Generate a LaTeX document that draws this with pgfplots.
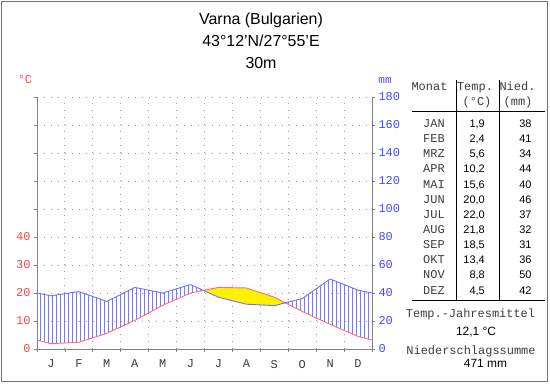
\documentclass[border=0pt]{standalone}
\usepackage{fontspec}
\setmainfont{Liberation Sans}
\newfontfamily\monofont{Liberation Mono}
\usepackage{pgfplots}
\usepackage{pgfplotstable}
\pgfplotsset{compat=1.18}
\usepgfplotslibrary{fillbetween}
\usetikzlibrary{patterns.meta}
\definecolor{tred}{RGB}{255,110,110}
\definecolor{pblue}{RGB}{110,110,255}
\definecolor{lred}{RGB}{255,70,70}
\definecolor{lblue}{RGB}{70,70,255}
\definecolor{hatch}{RGB}{120,120,255}
\definecolor{gridgray}{RGB}{150,150,150}
\definecolor{axgray}{RGB}{130,130,130}
\definecolor{txtgray}{RGB}{60,60,60}

\pgfplotstableread{
x T P
0 3.2 40
0.5 1.9 38
1.5 2.4 41
2.5 5.6 34
3.5 10.2 44
4.5 15.6 40
5.5 20.0 46
6.5 22.0 37
7.5 21.8 32
8.5 18.5 31
9.5 13.4 36
10.5 8.8 50
11.5 4.5 42
12 3.2 40
}\climate

\newcommand\mono{\monofont\fontsize{12}{12}\selectfont}
\newcommand\row[4]{%
  \node[anchor=base, font=\mono, text=txtgray] at (434,{256.5-15.14*#1}) {#2};
  \node[anchor=base east, inner sep=0pt, font=\fontsize{11}{11}\selectfont] at (485,{256.5-15.14*#1}) {#3};
  \node[anchor=base east, inner sep=0pt, font=\fontsize{11}{11}\selectfont] at (531.7,{256.5-15.14*#1}) {#4};
}

\begin{document}
\begin{tikzpicture}
\begin{scope}[x=1bp,y=1bp]
\useasboundingbox (0,0) rectangle (550,384);
\draw[gray!90!black, line width=1.2bp] (1.8,2.6) rectangle (547.6,382.3);
\node[anchor=base, font=\fontsize{16}{16}\selectfont] at (261,359.5) {Varna (Bulgarien)};
\node[anchor=base, font=\fontsize{16}{16}\selectfont] at (261,337.5) {43°12'N/27°55'E};
\node[anchor=base, font=\fontsize{16}{16}\selectfont] at (261,316) {30m};
\node[font=\mono, text=lred] at (25,304) {°C};
\node[font=\monofont\fontsize{11}{11}\selectfont, text=lblue] at (385,303) {mm};
\end{scope}

\begin{axis}[at={(37bp,35bp)}, anchor=south west, scale only axis,
  width=335bp, height=252bp,
  xmin=0, xmax=12, ymin=0, ymax=90,
  axis x line*=bottom, axis y line*=left,
  axis line style={axgray, -, line width=0.8bp},
  tick align=outside, major tick length=3bp,
  tick style={axgray, line width=0.8bp},
  xtick={0,...,12}, xticklabels={J,F,M,A,M,J,J,A,S,O,N,D},
  x tick label as interval,
  xticklabel style={yshift=-4.5bp, text=txtgray},
  ytick={0,10,...,90}, yticklabels={0,10,20,30,40,,,,,},
  grid=major,
  major grid style={gridgray, line width=0.9bp, dash pattern=on 0.9bp off 6.1bp},
  ticklabel style={font=\mono},
  yticklabel style={text=lred},
  /pgf/number format/assume math mode=true,
]
\addplot[draw=none, name path=tcurve] table[x=x, y=T]{\climate};
\addplot[draw=none, name path=pcurve] table[x=x, y expr=\thisrow{P}/2]{\climate};
\addplot[draw=none] fill between[of=pcurve and tcurve, split,
  every segment no 0/.style={pattern={Lines[angle=90,distance=4bp,line width=0.7bp]}, pattern color=hatch},
  every segment no 1/.style={fill=yellow},
  every segment no 2/.style={pattern={Lines[angle=90,distance=4bp,line width=0.7bp]}, pattern color=hatch}];
\addplot[tred, line width=0.9bp] table[x=x, y=T]{\climate};
\addplot[pblue, line width=0.9bp] table[x=x, y expr=\thisrow{P}/2]{\climate};
\end{axis}

\begin{axis}[at={(37bp,35bp)}, anchor=south west, scale only axis,
  width=335bp, height=252bp,
  xmin=0, xmax=12, ymin=0, ymax=180,
  hide x axis, axis y line*=right,
  axis line style={axgray, -, line width=0.8bp},
  tick align=outside, major tick length=3bp,
  tick style={axgray, line width=0.8bp},
  ytick={0,20,...,180},
  yticklabel style={text=lblue, font=\mono, anchor=west},
  /pgf/number format/assume math mode=true,
]
\addplot[draw=none] table[x=x, y=P]{\climate};
\end{axis}

\begin{scope}[x=1bp,y=1bp]
\draw[line width=0.8bp] (456.7,304) -- (456.7,83.3);
\draw[line width=0.8bp] (499.3,304) -- (499.3,83.3);
\draw[line width=0.8bp] (412,272.3) -- (545,272.3);
\draw[line width=0.8bp] (412,83.3) -- (545,83.3);
\node[anchor=base, font=\mono, text=txtgray] at (429.5,294) {Monat};
\node[anchor=base, font=\mono, text=txtgray] at (475,294) {Temp.};
\node[anchor=base, font=\mono, text=txtgray] at (477,279) {(°C)};
\node[anchor=base, font=\mono, text=txtgray] at (517.5,294) {Nied.};
\node[anchor=base, font=\mono, text=txtgray] at (518,279) {(mm)};
\row{0}{JAN}{1,9}{38}
\row{1}{FEB}{2,4}{41}
\row{2}{MRZ}{5,6}{34}
\row{3}{APR}{10,2}{44}
\row{4}{MAI}{15,6}{40}
\row{5}{JUN}{20,0}{46}
\row{6}{JUL}{22,0}{37}
\row{7}{AUG}{21,8}{32}
\row{8}{SEP}{18,5}{31}
\row{9}{OKT}{13,4}{36}
\row{10}{NOV}{8,8}{50}
\row{11}{DEZ}{4,5}{42}
\node[anchor=base, font=\mono, text=txtgray] at (470.5,67) {Temp.-Jahresmittel};
\node[anchor=base, font=\fontsize{12}{12}\selectfont] at (476,49) {12,1 °C};
\node[anchor=base, font=\mono, text=txtgray] at (471,29.5) {Niederschlagssumme};
\node[anchor=base, font=\fontsize{12}{12}\selectfont] at (485.5,17) {471 mm};
\end{scope}
\end{tikzpicture}
\end{document}
